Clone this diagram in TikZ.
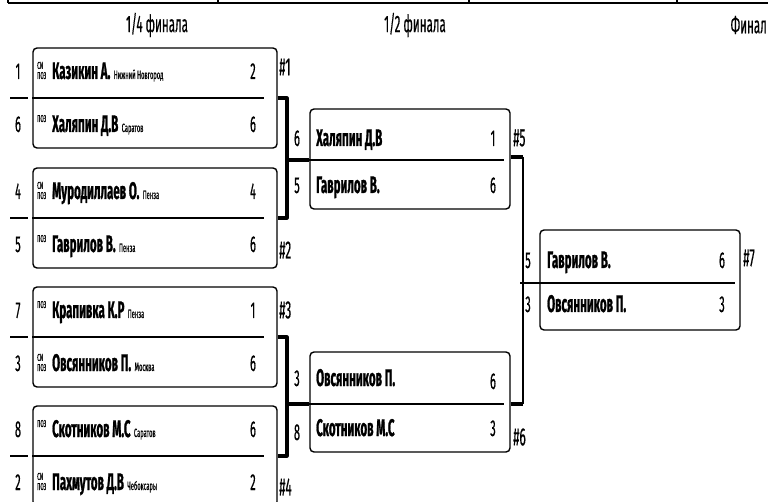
\documentclass[tikz,border=0pt]{standalone}
\usepackage{fontspec}
\setmainfont{Fira Sans}[FakeStretch=0.48, UprightFeatures={FakeBold=0.4}, BoldFeatures={FakeBold=0.9}]
\usetikzlibrary{positioning}
\tikzset{
  every picture/.style={line join=round, line cap=butt},
  matchbox/.style={draw, rounded corners=4pt, line width=1.4pt, inner sep=0pt},
  qfbox/.style={matchbox, minimum width=244pt, minimum height=100pt},
  sfbox/.style={matchbox, minimum width=200pt, minimum height=100pt},
  divider/.style={line width=2.2pt},
  bracket/.style={line width=3.2pt},
  player/.style={inner sep=0pt, font=\fontsize{24}{25}\selectfont\bfseries},
  city/.style={inner sep=0pt, font=\fontsize{12}{13}\selectfont},
  tagtext/.style={inner sep=0pt, font=\fontsize{10}{7.5}\selectfont},
  digit/.style={inner sep=0pt, font=\fontsize{23}{24}\selectfont},
  hashlbl/.style={inner sep=0pt, font=\fontsize{25}{26}\selectfont},
  header/.style={inner sep=0pt, font=\fontsize{24}{25}\selectfont},
}
\newcommand\tagsp{\shortstack[l]{СИ\\ПОЗ}}
\newcommand\tagp{\raisebox{10pt}{ПОЗ}}

\begin{document}
\begin{tikzpicture}[x=1pt,y=-1pt]
\useasboundingbox (0,0) rectangle (768,502);
% table edge on top
\draw[line width=2pt] (8,3)--(768,3);
\foreach \x in {8,218,469,677} \draw[line width=1.5pt] (\x,-1)--(\x,3);
\node[header] (h1) at (157,25) {1/4 финала};
\node[header] (h2) at (415,25) {1/2 финала};
\node[header,anchor=east] (h3) at (767,25) {Финал};

% quarter finals
\foreach \i/\c/\sa/\sb/\ka/\na/\ta/\pa/\kb/\nb/\tb/\pb in {
  1/98/1/6/\tagsp/Казикин А./Нижний Новгород/2/\tagp/Халяпин Д.В/Саратов/6,
  2/218/4/5/\tagsp/Муродиллаев О./Пенза/4/\tagp/Гаврилов В./Пенза/6,
  3/337/7/3/\tagp/Крапивка К.Р/Пенза/1/\tagsp/Овсянников П./Москва/6,
  4/456/8/2/\tagp/Скотников М.С/Саратов/6/\tagsp/Пахмутов Д.В/Чебоксары/2}
{
  \node[qfbox] (q\i) at (155,\c) {};
  \draw[divider] (q\i.west) -- ++(232,0);
  \draw[divider] (10,\c) -- (28,\c);
  \node[digit,anchor=base] (q\i sa) at (18,\c-19) {\sa};
  \node[digit,anchor=base] (q\i sb) at (18,\c+34) {\sb};
  \node[tagtext,anchor=base west] (q\i ka) at (37,\c-19) {\ka};
  \node[tagtext,anchor=base west] (q\i kb) at (37,\c+34) {\kb};
  \node[player,anchor=base west] (q\i a) at (52,\c-19) {\na};
  \node[player,anchor=base west] (q\i b) at (52,\c+34) {\nb};
  \node[city,anchor=base west] (q\i ca) at ([xshift=3pt]q\i a.base east) {\ta};
  \node[city,anchor=base west] (q\i cb) at ([xshift=3pt]q\i b.base east) {\tb};
  \node[digit,anchor=base] (q\i pa) at (253,\c-19) {\pa};
  \node[digit,anchor=base] (q\i pb) at (253,\c+34) {\pb};
}
\node[hashlbl,anchor=west] (n1) at (279,67) {\#1};
\node[hashlbl,anchor=west] (n2) at (279,250) {\#2};
\node[hashlbl,anchor=west] (n3) at (279,310) {\#3};
\node[hashlbl,anchor=west] (n4) at (279,487) {\#4};

% semi finals
\node[sfbox] (s1) at (410,159) {};
\node[sfbox] (s2) at (410,402) {};
\coordinate (j1) at (287,160);
\coordinate (j2) at (287,404);
\draw[bracket] (q1.east) -| (j1) |- (q2.east);
\draw[bracket] (q3.east) -| (j2) |- (q4.east);
\draw[bracket] (j1) -- (s1.west |- j1);
\draw[bracket] (j2) -- (s2.west |- j2);
\draw[divider] (s1.west |- j1) -- ++(195,0);
\draw[divider] (s2.west |- j2) -- ++(195,0);
\node[digit,anchor=base] (s1sa) at (297,146) {6};
\node[digit,anchor=base] (s1sb) at (297,193) {5};
\node[digit,anchor=base] (s2sa) at (297,386) {3};
\node[digit,anchor=base] (s2sb) at (297,440) {8};
\node[player,anchor=base west] (s1a) at (316,146) {Халяпин Д.В};
\node[player,anchor=base west] (s1b) at (316,193) {Гаврилов В.};
\node[player,anchor=base west] (s2a) at (316,386) {Овсянников П.};
\node[player,anchor=base west] (s2b) at (316,436) {Скотников М.С};
\node[digit,anchor=base] (s1pa) at (493,146) {1};
\node[digit,anchor=base] (s1pb) at (493,193) {6};
\node[digit,anchor=base] (s2pa) at (493,389) {6};
\node[digit,anchor=base] (s2pb) at (493,436) {3};
\node[hashlbl,anchor=west] (n5) at (513,138) {\#5};
\node[hashlbl,anchor=west] (n6) at (513,437) {\#6};

% final
\node[sfbox] (f) at (640,280) {};
\coordinate (k1) at (523,157);
\coordinate (k2) at (523,404);
\draw[bracket] (s1.east |- k1) -- (k1);
\draw[bracket] (s2.east |- k2) -- (k2);
\draw[line width=2.4pt] (k1) -- (k2);
\draw[divider] (520,283) -- (735,283);
\node[digit,anchor=base] (fsa) at (528,268) {5};
\node[digit,anchor=base] (fsb) at (528,312) {3};
\node[player,anchor=base west] (fa) at (547,268) {Гаврилов В.};
\node[player,anchor=base west] (fb) at (547,312) {Овсянников П.};
\node[digit,anchor=base] (fpa) at (722,268) {6};
\node[digit,anchor=base] (fpb) at (722,312) {3};
\node[hashlbl,anchor=west] (n7) at (743,258) {\#7};
\end{tikzpicture}
\end{document}
